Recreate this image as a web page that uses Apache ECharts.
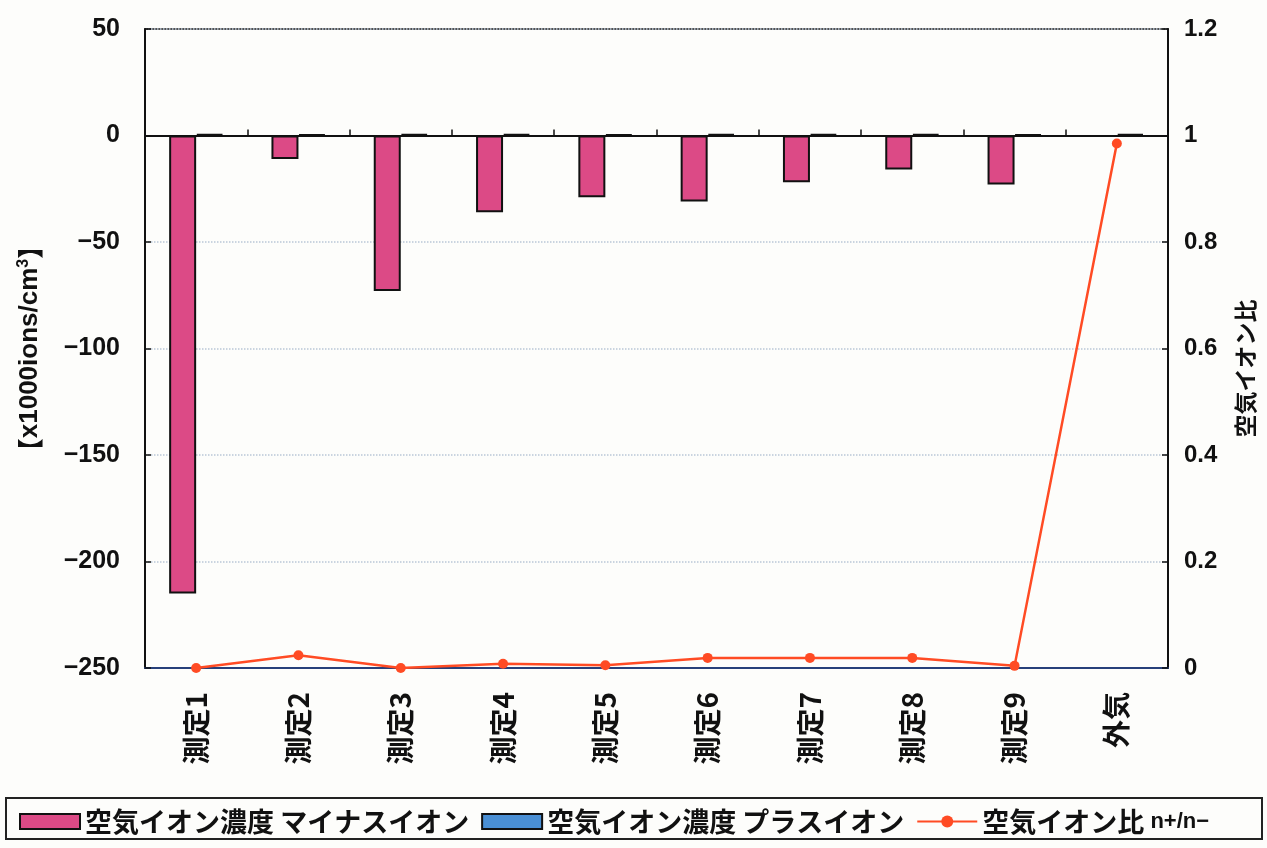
<!DOCTYPE html>
<html>
<head>
<meta charset="utf-8">
<script src="https://cdn.jsdelivr.net/npm/echarts@6/dist/echarts.min.js"></script>
<style>
  html, body { margin: 0; padding: 0; background: #fdfdfb; }
  #chart { width: 1267px; height: 848px; }
</style>
</head>
<body>
<div id="chart"></div>
<script>
// 測定地点
const categories = ['測定1', '測定2', '測定3', '測定4', '測定5', '測定6', '測定7', '測定8', '測定9', '外気'];
// 空気イオン濃度 [x1000ions/cm3]
const minusIons = [-215, -11, -73, -36, -29, -31, -22, -16, -23, -0.4];
const plusIons = [0.6, 0.5, 0.6, 0.6, 0.5, 0.6, 0.6, 0.6, 0.5, 0.8];
// 空気イオン比 n+/n-
const ionRatio = [0.0, 0.024, 0.0, 0.008, 0.005, 0.019, 0.019, 0.019, 0.004, 0.985];

const seriesNames = ['空気イオン濃度 マイナスイオン', '空気イオン濃度 プラスイオン', '空気イオン比'];

const numFont = '"Liberation Sans", Arial, "Noto Sans CJK JP", sans-serif';
const jpFont = '"Noto Sans CJK JP", "Liberation Sans", sans-serif';

const chart = echarts.init(document.getElementById('chart'));

chart.setOption({
  backgroundColor: '#fdfdfb',
  animation: false,
  grid: {
    left: 145, right: 99, top: 29, bottom: 180,
    show: true, borderColor: '#1a1a1a', borderWidth: 1.5, backgroundColor: 'transparent'
  },
  // 凡例の枠
  graphic: [{
    type: 'rect',
    left: 5, top: 797,
    shape: { width: 1256, height: 41 },
    style: { fill: 'transparent', stroke: '#222', lineWidth: 2 },
    z: 0
  }],
  legend: {
    left: 14, top: 803,
    itemWidth: 60, itemHeight: 15, itemGap: 12,
    data: [
      { name: seriesNames[0], icon: 'rect' },
      { name: seriesNames[1], icon: 'rect' },
      { name: seriesNames[2] }
    ],
    formatter: function (name) {
      if (name === seriesNames[2]) return name + ' {s|n+/n−}';
      return name;
    },
    textStyle: {
      fontFamily: jpFont, fontSize: 27, fontWeight: 'bold', color: '#111',
      rich: { s: { fontFamily: numFont, fontSize: 22, fontWeight: 'bold', color: '#111' } }
    }
  },
  xAxis: [{
    type: 'category',
    data: categories,
    position: 'bottom',
    axisLine: { onZero: false, lineStyle: { color: '#27407a', width: 2 } },
    axisTick: { show: false },
    axisLabel: {
      interval: 0, rotate: 90, margin: 24,
      fontFamily: jpFont, fontSize: 28, fontWeight: 'bold', color: '#111'
    },
    splitLine: { show: false }
  }, {
    type: 'category',
    data: categories,
    position: 'bottom',
    axisLine: { onZero: true, onZeroAxisIndex: 0, lineStyle: { color: '#111', width: 2 } },
    axisTick: { show: true, inside: true, length: 6, lineStyle: { color: '#111', width: 1.5 } },
    axisLabel: { show: false },
    splitLine: { show: false }
  }],
  yAxis: [{
    type: 'value',
    min: -250, max: 50, interval: 50,
    position: 'left',
    name: '{b|【}x1000ions/cm{sup|3}{b|】}',
    nameLocation: 'middle',
    nameRotate: 90,
    nameGap: 101,
    nameTextStyle: {
      fontFamily: numFont, fontSize: 26, fontWeight: 'bold', color: '#111',
      rich: {
        b: { fontFamily: jpFont, fontSize: 26, fontWeight: 'bold', color: '#111' },
        sup: { fontFamily: numFont, fontSize: 16, fontWeight: 'bold', color: '#111', verticalAlign: 'top', padding: [0, 0, 12, 0] }
      }
    },
    axisLine: { show: true, lineStyle: { color: '#111', width: 2 } },
    axisTick: { show: true, inside: true, length: 6, lineStyle: { color: '#111', width: 1.5 } },
    axisLabel: {
      margin: 25, fontFamily: numFont, fontSize: 25, fontWeight: 'bold', color: '#111',
      formatter: function (v) { return v < 0 ? '−' + Math.abs(v) : String(v); }
    },
    splitLine: { show: true, lineStyle: { color: '#b9c6d8', type: 'dotted', width: 1.5 } }
  }, {
    type: 'value',
    min: 0, max: 1.2, interval: 0.2,
    position: 'right',
    name: '空気イオン比',
    nameLocation: 'middle',
    nameRotate: 90,
    nameGap: 66,
    nameTextStyle: { fontFamily: jpFont, fontSize: 23, fontWeight: 'bold', color: '#111', padding: [0, 40, 0, 0] },
    axisLine: { show: true, lineStyle: { color: '#111', width: 2 } },
    axisTick: { show: true, inside: true, length: 6, lineStyle: { color: '#111', width: 1.5 } },
    axisLabel: {
      margin: 16, fontFamily: numFont, fontSize: 24, fontWeight: 'bold', color: '#111',
      formatter: function (v) { return String(Math.round(v * 10) / 10); }
    },
    splitLine: { show: false }
  }],
  series: [{
    name: seriesNames[0],
    type: 'bar',
    xAxisIndex: 0, yAxisIndex: 0,
    data: minusIons,
    barWidth: 27,
    barGap: '0%',
    itemStyle: { color: '#dc4a86', borderColor: '#111', borderWidth: 2 },
    z: 3
  }, {
    name: seriesNames[1],
    type: 'bar',
    xAxisIndex: 0, yAxisIndex: 0,
    data: plusIons,
    barWidth: 27,
    barGap: '0%',
    itemStyle: { color: '#4a8fd4', borderColor: '#111', borderWidth: 2 },
    z: 3
  }, {
    name: seriesNames[2],
    type: 'line',
    xAxisIndex: 0, yAxisIndex: 1,
    data: ionRatio,
    symbol: 'circle',
    symbolSize: 10,
    lineStyle: { color: '#ff4b24', width: 2.5 },
    itemStyle: { color: '#ff4b24' },
    z: 5
  }]
});
</script>
</body>
</html>
